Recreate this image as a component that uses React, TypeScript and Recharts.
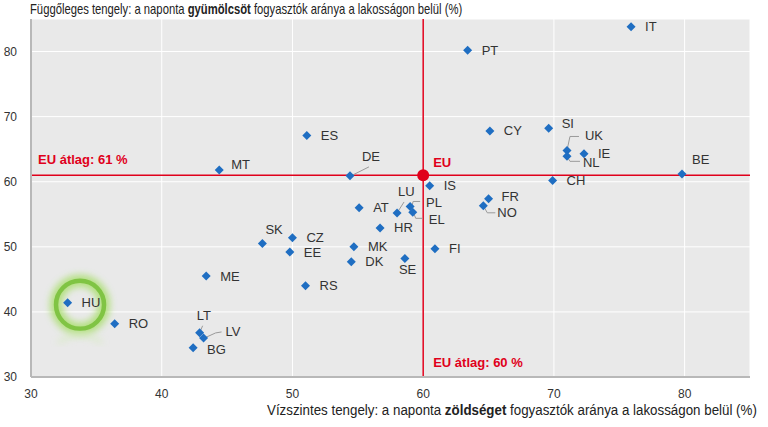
import React, { useLayoutEffect, useRef, useState } from "react";
import {
  ScatterChart,
  Scatter,
  XAxis,
  YAxis,
  CartesianGrid,
  ReferenceLine,
  ReferenceDot,
} from "recharts";

document.body.style.margin = "0";

// countries, daily vegetable (x) and fruit (y) consumers, % of population
const countries = [
  "IT", "PT", "CY", "SI", "UK", "NL", "IE", "BE", "CH", "DE", "MT", "ES",
  "IS", "FR", "NO", "AT", "LU", "PL", "EL", "HR", "FI", "SE", "MK", "DK",
  "CZ", "SK", "EE", "ME", "RS", "HU", "RO", "LT", "LV", "BG",
];
const vegetables = [
  75.9, 63.4, 65.1, 69.6, 71.0, 71.0, 72.3, 79.8, 69.9, 54.4, 44.4, 51.1,
  60.5, 65.0, 64.6, 55.1, 58.0, 59.0, 59.2, 56.7, 60.9, 58.6, 54.7, 54.5,
  50.0, 47.7, 49.8, 43.4, 51.0, 32.8, 36.4, 42.9, 43.2, 42.4,
];
const fruits = [
  83.8, 80.2, 67.8, 68.2, 64.8, 63.9, 64.3, 61.2, 60.2, 60.9, 61.8, 67.1,
  59.4, 57.4, 56.3, 56.0, 55.2, 56.2, 55.3, 52.9, 49.7, 48.2, 50.0, 47.7,
  51.4, 50.5, 49.2, 45.5, 44.0, 41.4, 38.2, 36.8, 36.0, 34.5,
];
const euVegetables = 60;
const euFruits = 61;
const ticks = [30, 40, 50, 60, 70, 80];

const data = countries.map((name, i) => ({ name, x: vegetables[i], y: fruits[i] }));

const FONT = "'Liberation Sans', Arial, sans-serif";
const BLUE = "#1f6ec2";
const RED = "#e0001b";

// label placement (pixels from the marker), leader lines where labels are moved
const labelPos: Record<string, { dx: number; dy: number; lead?: number[][] }> = {
  UK: { dx: 18, dy: -15, lead: [[0, 0], [3, -14], [12, -14]] },
  NL: { dx: 16, dy: 6, lead: [[0, 0], [3, 5], [13, 5]] },
  DE: { dx: 12, dy: -19, lead: [[1, 0], [19, -9]] },
  FR: { dx: 13, dy: -2 },
  NO: { dx: 14, dy: 7, lead: [[0, 0], [4, 7], [12, 7]] },
  LU: { dx: 1, dy: -21, lead: [[0, 0], [7, -11]] },
  PL: { dx: 16, dy: -4, lead: [[2, -1], [3, -5], [10, -5]] },
  EL: { dx: 16, dy: 7, lead: [[1, 1], [3, 6], [10, 6]] },
  LT: { dx: -3, dy: -17, lead: [[0, 0], [3, -7]] },
  LV: { dx: 22, dy: -6, lead: [[1, 0], [12, -5], [18, -6]] },
  SE: { dx: -6, dy: 11 },
  SK: { dx: 3, dy: -14 },
  BE: { dx: 10, dy: -14 },
  SI: { dx: 13, dy: -5 },
  MT: { dx: 12, dy: -6 },
  BG: { dx: 14, dy: 2 },
};

const CountryMark = (props: any) => {
  const { cx, cy, payload } = props;
  if (cx == null || cy == null) return null;
  const pos = labelPos[payload.name] || { dx: 14, dy: 0 };
  const s = 4.5;
  return (
    <g>
      {pos.lead && (
        <polyline
          points={pos.lead.map(([a, b]) => `${cx + a},${cy + b}`).join(" ")}
          fill="none"
          stroke="#9a9a9a"
          strokeWidth={1}
        />
      )}
      <path
        d={`M${cx},${cy - s} L${cx + s},${cy} L${cx},${cy + s} L${cx - s},${cy} Z`}
        fill={BLUE}
      />
      <text
        x={cx + pos.dx}
        y={cy + pos.dy}
        dominantBaseline="central"
        fontSize={13}
        fontFamily={FONT}
        fill="#333"
      >
        {payload.name}
      </text>
    </g>
  );
};

const EuMark = (props: any) => {
  const { cx, cy } = props;
  if (cx == null || cy == null) return null;
  return (
    <g>
      <circle cx={cx} cy={cy} r={6} fill={RED} />
      <text x={cx + 10} y={cy - 13} dominantBaseline="central" fontSize={13} fontWeight="bold" fontFamily={FONT} fill={RED}>
        EU
      </text>
    </g>
  );
};

const HuRing = (props: any) => {
  const { cx, cy } = props;
  if (cx == null || cy == null) return null;
  return (
    <g>
      <defs>
        <filter id="glow" x="-50%" y="-50%" width="200%" height="200%">
          <feGaussianBlur stdDeviation="3.5" />
        </filter>
      </defs>
      <circle cx={cx} cy={cy} r={24} fill="none" stroke="#a8de6c" strokeWidth={12} filter="url(#glow)" opacity={0.85} />
      <circle cx={cx} cy={cy} r={24} fill="none" stroke="#80c444" strokeWidth={4.5} />
      <path
        d={`M${cx - 22},${cy + 38} Q${cx},${cy + 22} ${cx + 22},${cy + 38}`}
        fill="none"
        stroke="#d2ebb8"
        strokeWidth={4}
        filter="url(#glow)"
        opacity={0.7}
      />
    </g>
  );
};

const hLabel = (props: any) => {
  const { x, y } = props.viewBox;
  return (
    <text x={x + 7} y={y - 16} dominantBaseline="central" fontSize={13} fontWeight="bold" fontFamily={FONT} fill={RED}>
      EU átlag: 61 %
    </text>
  );
};

const vLabel = (props: any) => {
  const { x, y, height } = props.viewBox;
  return (
    <text x={x + 10} y={y + height - 15} dominantBaseline="central" fontSize={13} fontWeight="bold" fontFamily={FONT} fill={RED}>
      EU átlag: 60 %
    </text>
  );
};

// axis title squeezed horizontally to the narrow font width of the original
const Title = ({ x, y, width, size, before, bold, after }: any) => {
  const ref = useRef<SVGTextElement>(null);
  const [k, setK] = useState(1);
  useLayoutEffect(() => {
    if (ref.current) {
      const w = ref.current.getBBox().width;
      if (w > 0) setK(width / w);
    }
  }, [width]);
  return (
    <g transform={`translate(${x},${y}) scale(${k},1)`}>
      <text ref={ref} x={0} y={0} dominantBaseline="central" fontSize={size} fontFamily={FONT} fill="#222">
        {before}
        <tspan fontWeight="bold">{bold}</tspan>
        {after}
      </text>
    </g>
  );
};

export default function App() {
  return (
    <div style={{ position: "relative", width: 768, height: 427, background: "#fff" }}>
      <ScatterChart width={768} height={427} margin={{ top: 19, right: 18, left: 0, bottom: 0 }}>
        <CartesianGrid stroke="#fff" fill="#e9e9e9" strokeWidth={1} />
        <XAxis
          type="number"
          dataKey="x"
          domain={[30, 85]}
          ticks={ticks}
          height={50}
          axisLine={{ stroke: "#b8b8b8", strokeWidth: 2 }}
          tickLine={false}
          tick={{ fontSize: 12, fontFamily: FONT, fill: "#333" }}
          tickMargin={6}
        />
        <YAxis
          type="number"
          dataKey="y"
          domain={[30, 85]}
          ticks={ticks}
          width={31}
          axisLine={{ stroke: "#b8b8b8", strokeWidth: 2 }}
          tickLine={false}
          tick={{ fontSize: 12, fontFamily: FONT, fill: "#333" }}
          tickMargin={8}
        />
        <ReferenceDot x={33.75} y={41.1} r={24} shape={HuRing} />
        <ReferenceLine y={euFruits} stroke={RED} strokeWidth={1.5} label={hLabel} />
        <ReferenceLine x={euVegetables} stroke={RED} strokeWidth={1.5} label={vLabel} />
        <Scatter data={data} shape={CountryMark} isAnimationActive={false} />
        <Scatter data={[{ x: euVegetables, y: euFruits }]} shape={EuMark} isAnimationActive={false} />
      </ScatterChart>
      <svg width={768} height={427} style={{ position: "absolute", left: 0, top: 0, pointerEvents: "none" }}>
        <Title x={30} y={10} width={433} size={14} before="Függőleges tengely: a naponta " bold="gyümölcsöt" after=" fogyasztók aránya a lakosságon belül (%)" />
        <Title x={267} y={410} width={490} size={15} before="Vízszintes tengely: a naponta " bold="zöldséget" after=" fogyasztók aránya a lakosságon belül (%)" />
      </svg>
    </div>
  );
}
